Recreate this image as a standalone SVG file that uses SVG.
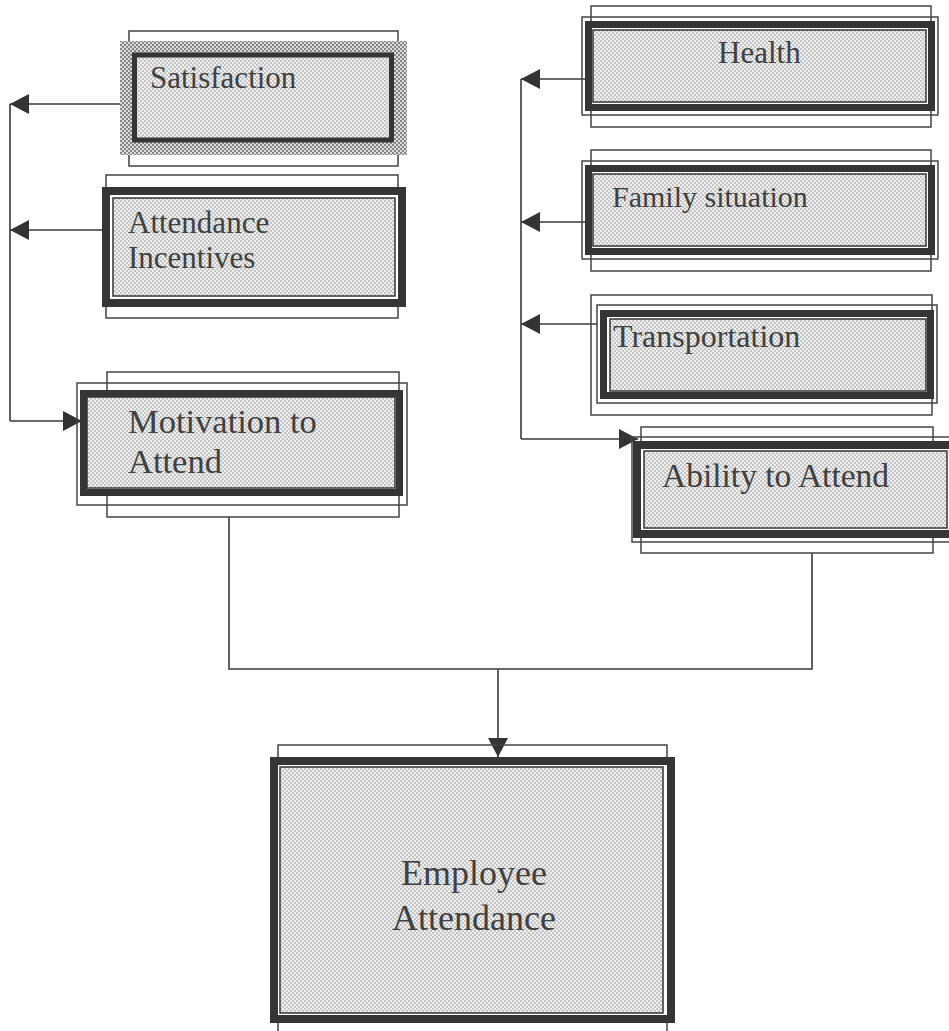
<svg xmlns="http://www.w3.org/2000/svg" width="949" height="1031" viewBox="0 0 949 1031">
<style>
.thin{fill:none;stroke:#444;stroke-width:1.5}
.thick{fill:#fff;stroke:#353535}
.inner{fill:url(#dots);stroke:#353535;stroke-width:1.5}
.lbl{font-family:"Liberation Serif","Times New Roman",serif;fill:#404040}
.conn{fill:none;stroke:#3a3a3a;stroke-width:1.6}
</style>
<defs>
<pattern id="dots" width="4" height="4" patternUnits="userSpaceOnUse">
<rect width="4" height="4" fill="#eeeeee"/>
<circle cx="1" cy="1" r="0.75" fill="#8a8a8a"/>
<circle cx="3" cy="3" r="0.75" fill="#8a8a8a"/>
</pattern>
<pattern id="dotsDark" width="4" height="4" patternUnits="userSpaceOnUse">
<rect width="4" height="4" fill="#dcdcdc"/>
<circle cx="1" cy="1" r="1" fill="#666"/>
<circle cx="3" cy="3" r="1" fill="#666"/>
</pattern>
<marker id="arr" markerUnits="userSpaceOnUse" markerWidth="22" markerHeight="22" refX="19" refY="10" orient="auto">
<path d="M0,0 L19,10 L0,20 Z" fill="#333"/>
</marker>
</defs>
<rect width="949" height="1031" fill="#fff"/>

<g id="connectors">
<path class="conn" d="M10 421 V104"/>
<path class="conn" d="M120 104 H10" marker-end="url(#arr)"/>
<path class="conn" d="M102 230 H10" marker-end="url(#arr)"/>
<path class="conn" d="M10 421 H82" marker-end="url(#arr)"/>
<path class="conn" d="M521 439 V79"/>
<path class="conn" d="M585 79 H521" marker-end="url(#arr)"/>
<path class="conn" d="M585 222 H521" marker-end="url(#arr)"/>
<path class="conn" d="M597 324 H521" marker-end="url(#arr)"/>
<path class="conn" d="M521 439 H638" marker-end="url(#arr)"/>
<path class="conn" d="M229 517 V669 H812 V553"/>
<path class="conn" d="M498 669 V757" marker-end="url(#arr)"/>
</g>

<g id="satisfaction">
<rect class="thin" x="129" y="31" width="269" height="135"/>
<rect x="120" y="41" width="287" height="114" fill="url(#dotsDark)"/>
<rect x="134.5" y="55" width="257" height="85" fill="url(#dots)" stroke="#353535" stroke-width="5"/>
<text class="lbl" x="150" y="88" font-size="31">Satisfaction</text>
</g>

<g id="attendance-incentives">
<rect class="thin" x="106" y="175" width="292" height="143"/>
<rect class="thick" x="106" y="191" width="296" height="112" stroke-width="8"/>
<rect class="inner" x="113" y="198" width="282" height="98"/>
<text class="lbl" x="128" y="233" font-size="31">Attendance</text>
<text class="lbl" x="128" y="268" font-size="31">Incentives</text>
</g>

<g id="health">
<rect class="thin" x="591" y="6" width="340" height="121"/>
<rect class="thin" x="582" y="17" width="356" height="98"/>
<rect class="thick" x="588.5" y="24.5" width="343" height="83" stroke-width="7"/>
<rect class="inner" x="593" y="30" width="333" height="72"/>
<text class="lbl" x="718" y="63" font-size="31">Health</text>
</g>

<g id="family-situation">
<rect class="thin" x="591" y="150" width="340" height="121"/>
<rect class="thin" x="582" y="161" width="356" height="98"/>
<rect class="thick" x="588.5" y="168.5" width="343" height="83" stroke-width="7"/>
<rect class="inner" x="593" y="174" width="333" height="72"/>
<text class="lbl" x="612" y="207" font-size="30">Family situation</text>
</g>

<g id="transportation">
<rect class="thin" x="591" y="295" width="341" height="120"/>
<rect class="thin" x="597" y="305" width="340" height="98"/>
<rect class="thick" x="603.5" y="313.5" width="327" height="82" stroke-width="7"/>
<rect class="inner" x="610" y="319" width="316" height="72"/>
<text class="lbl" x="613" y="347" font-size="32">Transportation</text>
</g>

<g id="ability-to-attend">
<rect class="thin" x="641" y="427" width="292" height="126"/>
<rect class="thin" x="632" y="437" width="330" height="105"/>
<rect class="thick" x="637" y="445" width="325" height="89" stroke-width="8"/>
<rect class="inner" x="644" y="451" width="303" height="77"/>
<text class="lbl" x="662" y="487" font-size="33.5">Ability to Attend</text>
</g>

<g id="motivation-to-attend">
<rect class="thin" x="107" y="372" width="292" height="145"/>
<rect class="thin" x="77" y="383" width="330" height="122"/>
<rect class="thick" x="83.5" y="393.5" width="316" height="99" stroke-width="7"/>
<rect class="inner" x="87" y="397" width="308" height="91" stroke="none"/>
<text class="lbl" x="128" y="433" font-size="34.5">Motivation to</text>
<text class="lbl" x="128" y="473" font-size="34.5">Attend</text>
</g>

<g id="employee-attendance">
<rect class="thin" x="278" y="745" width="389" height="300"/>
<rect class="thick" x="274" y="761" width="397" height="258" stroke-width="8"/>
<rect class="inner" x="280" y="767" width="383" height="246" stroke-width="2"/>
<text class="lbl" x="474" y="885" font-size="36" text-anchor="middle">Employee</text>
<text class="lbl" x="474" y="930" font-size="36" text-anchor="middle">Attendance</text>
</g>
</svg>
